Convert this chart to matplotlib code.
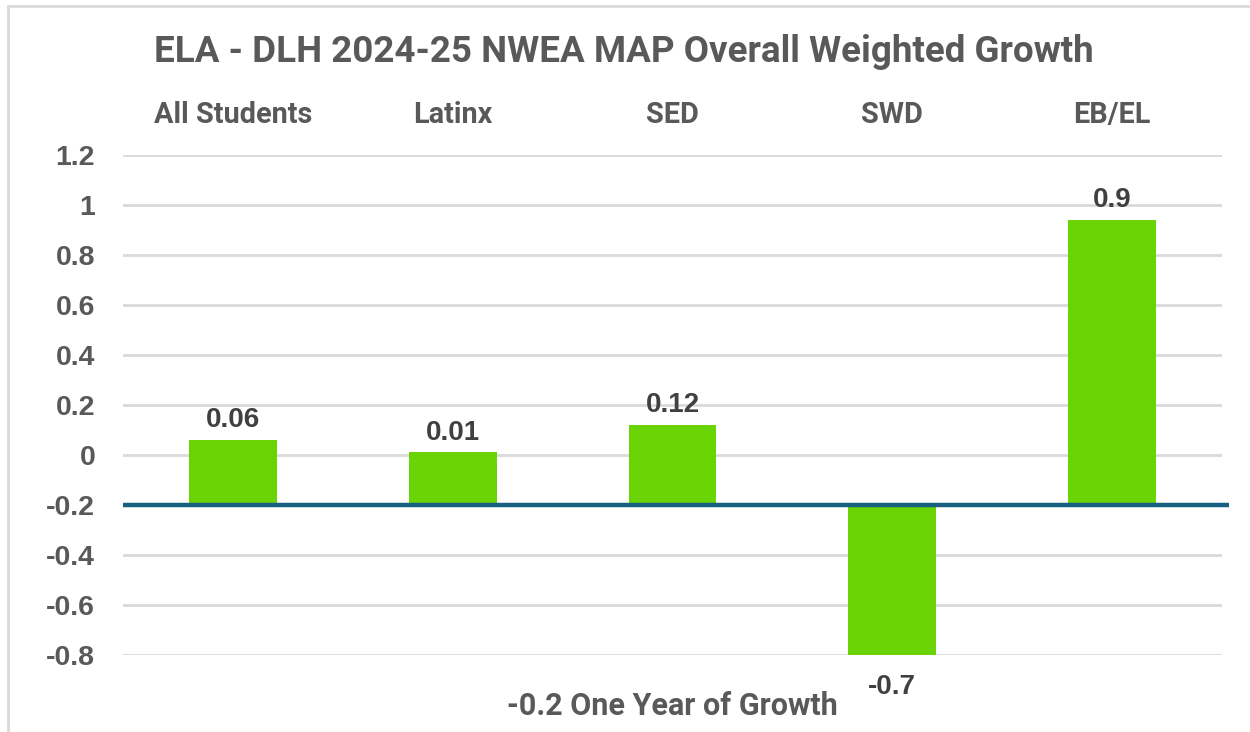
import matplotlib as mpl
mpl.use('Agg')
import matplotlib.pyplot as plt
from matplotlib.lines import Line2D

# Chart data
categories = ['All Students', 'Latinx', 'SED', 'SWD', 'EB/EL']
values = [0.06, 0.01, 0.12, -0.8, 0.94]
value_labels = ['0.06', '0.01', '0.12', '-0.7', '0.9']
baseline = -0.2
yticks = [1.2, 1, 0.8, 0.6, 0.4, 0.2, 0, -0.2, -0.4, -0.6, -0.8]
ytick_labels = ['1.2', '1', '0.8', '0.6', '0.4', '0.2', '0', '-0.2', '-0.4', '-0.6', '-0.8']

title = 'ELA - DLH 2024-25 NWEA MAP Overall Weighted Growth'
note = '-0.2 One Year of Growth'

text_gray = '#595959'
label_gray = '#404040'
bar_green = '#6AD304'
line_blue = '#165F80'
grid_gray = '#D9D9D9'
head_font = ['Roboto', 'DejaVu Sans']
num_font = ['Liberation Sans', 'DejaVu Sans']

fig = plt.figure(figsize=(12.5, 7.32), dpi=100)
ax = fig.add_axes([0.0984, 0.1052, 0.8792, 0.6831])

x = list(range(len(categories)))
heights = [v - baseline for v in values]
ax.bar(x, heights, bottom=baseline, width=0.4, color=bar_green, zorder=2)

# data labels above / below the bars
for xi, v, lab in zip(x, values, value_labels):
    if v >= baseline:
        ax.annotate(lab, (xi, v), xytext=(0, 5), textcoords='offset points',
                    ha='center', va='bottom', fontsize=20, fontweight='bold',
                    color=label_gray, family=num_font, annotation_clip=False)
    else:
        ax.annotate(lab, (xi, v), xytext=(0, -14), textcoords='offset points',
                    ha='center', va='top', fontsize=20, fontweight='bold',
                    color=label_gray, family=num_font, annotation_clip=False)

# one-year-of-growth line
ax.plot([-0.5, 4.53], [baseline, baseline], color=line_blue, lw=3.2,
        solid_capstyle='butt', clip_on=False, zorder=3)

ax.set_xlim(-0.5, 4.5)
ax.set_ylim(-0.8, 1.2)
ax.set_yticks(yticks)
ax.set_yticklabels(ytick_labels, fontsize=20.5, fontweight='bold',
                   color=text_gray, family=num_font)
ax.yaxis.grid(True, color=grid_gray, lw=2, zorder=0)
ax.set_axisbelow(True)

ax.set_xticks(x)
ax.set_xticklabels(categories, fontsize=20.8, fontweight='bold',
                   color=text_gray, family=head_font)
ax.xaxis.tick_top()
ax.tick_params(axis='x', length=0, pad=19)
ax.tick_params(axis='y', length=0, pad=20)
for s in ax.spines.values():
    s.set_visible(False)

fig.text(0.499, 0.929, title, ha='center', va='center', fontsize=26.5,
         fontweight='bold', color=text_gray, family=head_font)
fig.text(0.5376, 0.036, note, ha='center', va='center', fontsize=22,
         fontweight='bold', color=text_gray, family=head_font)

# chart frame (top and left edges visible)
fig.add_artist(Line2D([0.0064, 1.0], [0.992, 0.992], color=grid_gray, lw=2))
fig.add_artist(Line2D([0.0064, 0.0064], [0.0, 0.992], color=grid_gray, lw=2))

fig.savefig('out.png', dpi=100, facecolor='white')
